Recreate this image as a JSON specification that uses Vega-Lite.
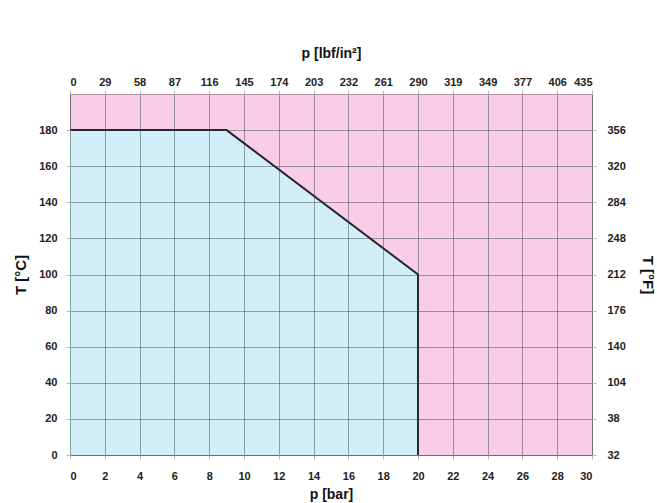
{
  "$schema": "https://vega.github.io/schema/vega-lite/v6.json",
  "width": 522,
  "height": 361,
  "autosize": {"type": "none"},
  "padding": {"left": 70, "top": 94, "right": 65, "bottom": 48},
  "background": "#ffffff",
  "config": {
    "view": {"fill": "#f9cde5", "stroke": "#9a6a82", "strokeOpacity": 0.7, "strokeWidth": 1},
    "axis": {
      "labelFont": "Liberation Sans Narrow, Liberation Sans, sans-serif",
      "labelFontWeight": "bold",
      "labelFontSize": 11,
      "labelColor": "#222222",
      "titleFont": "Liberation Sans, sans-serif",
      "titleFontWeight": "bold",
      "titleColor": "#111111",
      "tickColor": "#b8b8b8",
      "tickSize": 4,
      "domain": false
    }
  },
  "data": {"values": [
    {"p": 0, "t": 180, "o": 1},
    {"p": 9, "t": 180, "o": 2},
    {"p": 20, "t": 100, "o": 3}
  ]},
  "resolve": {"axis": {"x": "independent", "y": "independent"}},
  "layer": [
    {
      "mark": {"type": "area", "color": "#d2eef8", "opacity": 1},
      "encoding": {
        "x": {"field": "p", "type": "quantitative",
          "scale": {"domain": [0, 30], "nice": false, "zero": false},
          "axis": {"orient": "bottom", "values": [0,2,4,6,8,10,12,14,16,18,20,22,24,26,28,30],
            "zindex": 1,
            "grid": true, "gridColor": "#2d3a44", "gridOpacity": 0.45, "labelPadding": 11,
            "title": "p [bar]", "titleFontSize": 14, "titlePadding": 6}},
        "y": {"field": "t", "type": "quantitative",
          "scale": {"domain": [0, 200], "nice": false, "zero": false},
          "axis": {"orient": "left", "values": [0,20,40,60,80,100,120,140,160,180],
            "zindex": 1,
            "grid": true, "gridColor": "#2d3a44", "gridOpacity": 0.45, "labelPadding": 9,
            "title": "T [°C]", "titleFontSize": 15, "titlePadding": 10}},
        "y2": {"datum": 0}
      }
    },
    {
      "data": {"values": [
        {"p": 0, "t": 180, "o": 1},
        {"p": 9, "t": 180, "o": 2},
        {"p": 20, "t": 100, "o": 3},
        {"p": 20, "t": 0, "o": 4}
      ]},
      "mark": {"type": "line", "color": "#252530", "strokeWidth": 2},
      "encoding": {
        "x": {"field": "p", "type": "quantitative",
          "axis": {"orient": "top", "values": [0,2,4,6,8,10,12,14,16,18,20,22,24,26,28,30],
            "zindex": 1,
            "grid": false, "labelPadding": 3,
            "labelExpr": "['0','29','58','87','116','145','174','203','232','261','290','319','349','377','406','435'][round(datum.value/2)]",
            "title": "p [lbf/in²]", "titleFontSize": 14, "titlePadding": 16}},
        "y": {"field": "t", "type": "quantitative",
          "axis": {"orient": "right", "values": [0,20,40,60,80,100,120,140,160,180],
            "zindex": 1,
            "grid": false, "labelPadding": 11,
            "labelExpr": "['32','38','104','140','176','212','248','284','320','356'][round(datum.value/20)]",
            "title": "T [°F]", "titleFontSize": 15, "titlePadding": 14}},
        "order": {"field": "o", "type": "quantitative"}
      }
    }
  ]
}
